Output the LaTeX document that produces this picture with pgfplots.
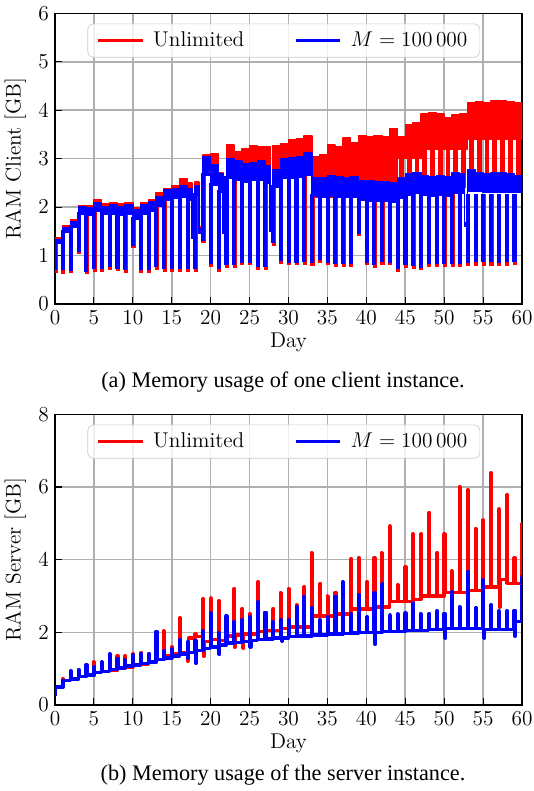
\documentclass[border=0pt]{standalone}
\usepackage{fontspec}
\usepackage{pgfplots}
\pgfplotsset{compat=1.18}
\newfontfamily\capfont{Liberation Serif}
\definecolor{gridc}{RGB}{176,176,176}
\definecolor{legc}{RGB}{204,204,204}
\pgfplotsset{
  memaxis/.style={
    scale only axis, width=262.7pt, height=163.5pt,
    xmin=0, xmax=60, ymin=0,
    xtick={0,5,...,60},
    tick pos=left, tick align=inside,
    major tick length=4pt,
    tick style={black, line width=0.6pt},
    axis line style={black, line width=0.8pt},
    grid=major, grid style={gridc, line width=0.9pt},
    tick label style={font=\fontsize{12}{14}\selectfont},
    label style={font=\fontsize{12}{14}\selectfont},
    xlabel={Day},
    xlabel style={yshift=2pt},
    legend style={at={(0.49,0.965)}, anchor=north, legend columns=2,
      draw=legc, rounded corners=3pt, fill=white, fill opacity=0.8, text opacity=1,
      font=\fontsize{12}{14}\selectfont, inner xsep=5pt, inner ysep=2.5pt,
      /tikz/every even column/.append style={column sep=26pt},
      /tikz/every odd column/.append style={column sep=3pt}},
    legend image code/.code={\draw[#1, line width=1.8pt] (0pt,0pt) -- (25pt,0pt);},
  }
}
\begin{document}
\begin{tikzpicture}
\useasboundingbox (0,0) rectangle (300.375pt,444.94pt);
% ---------------- client ----------------
\begin{axis}[memaxis, at={(30.94pt,273.94pt)}, anchor=south west,
  ymax=6, ytick={0,1,...,6}, ylabel={RAM Client [GB]}]
\addlegendimage{red}\addlegendentry{Unlimited}
\addlegendimage{blue}\addlegendentry{$M = 100\,000$}
% red band
\addplot[forget plot, fill=red, draw=red, line width=0.8pt, line join=round] coordinates {
(0,1.36)(1,1.36)(1,1.62)(2,1.62)(2,1.74)(3,1.74)(3,2.03)(4,2.03)(4,2.02)(5,2.02)(5,2.16)(6,2.16)(6,2.08)(7,2.08)(7,2.1)(8,2.1)(8,2.07)(9,2.07)(9,2.1)(10,2.1)(10,1.98)(11,1.98)(11,2.1)(12,2.1)(12,2.16)(13,2.16)(13,2.3)(14,2.3)(14,2.38)(15,2.38)(15,2.45)(16,2.45)(16,2.58)(17,2.58)(17,2.5)(17.6,2.5)(17.6,1.48)(18,1.48)(18,2.52)(18.5,2.52)(18.5,1.6)(19,1.6)(19,3.08)(20,3.08)(20,3.1)(21,3.1)(21,2.72)(21.6,2.72)(21.6,1.6)(22,1.6)(22,3.28)(23,3.28)(23,3.15)(24,3.15)(24,3.2)(25,3.2)(25,3.26)(26,3.26)(26,3.24)(27,3.24)(27,3.25)(27.6,3.25)(27.6,1.62)(28,1.62)(28,3.27)(29,3.27)(29,3.3)(30,3.3)(30,3.4)(31,3.4)(31,3.42)(32,3.42)(32,3.47)(33,3.47)(33,3.05)(34,3.05)(34,3.08)(35,3.08)(35,3.28)(36,3.28)(36,3.25)(37,3.25)(37,3.43)(38,3.43)(38,3.32)(39,3.32)(39,3.48)(40,3.48)(40,3.45)(41,3.45)(41,3.48)(42,3.48)(42,3.45)(43,3.45)(43,3.62)(44,3.62)(44,3.45)(45,3.45)(45,3.7)(46,3.7)(46,3.75)(47,3.75)(47,3.92)(48,3.92)(48,3.95)(49,3.95)(49,3.92)(50,3.92)(50,3.85)(51,3.85)(51,3.9)(52,3.9)(52,3.92)(53,3.92)(53,4.15)(54,4.15)(54,4.18)(55,4.18)(55,4.15)(56,4.15)(56,4.2)(57,4.2)(58,4.2)(58,4.18)(59,4.18)(59,4.15)(60,4.15)
(60,3.4)(53,3.4)(53,3.2)(47,3.2)(47,3.0)(44,3.0)(44,2.2)(33,2.2)(33,2.65)
(32,2.65)(32,2.62)(31,2.62)(31,2.6)(29,2.6)(29,2.4)(28,2.4)(28,1.5)(27.6,1.5)(27.6,2.5)(27,2.5)(27,2.55)(25,2.55)(25,2.52)(24,2.52)(24,2.55)(23,2.55)(23,2.6)(22,2.6)(22,1.45)(21.6,1.45)(21.6,2.3)(21,2.3)(21,2.45)(20,2.45)(20,2.65)(19,2.65)(19,1.45)(18.5,1.45)(18.5,2.25)(18,2.25)(18,1.35)(17.6,1.35)(17.6,2.15)(17,2.15)(17,2.2)(16,2.2)(16,2.18)(15,2.18)(15,2.15)(14,2.15)(14,2.02)(13,2.02)(13,1.92)(12,1.92)(12,1.85)(11,1.85)(11,1.75)(10,1.75)(10,1.86)(9,1.86)(9,1.83)(8,1.83)(8,1.86)(7,1.86)(7,1.85)(6,1.85)(6,1.92)(5,1.92)(5,1.84)(4,1.84)(4,1.85)(3,1.85)(3,1.58)(2,1.58)(2,1.48)(1,1.48)(1,1.25)(0,1.25)
};
% red lower blocks (between daily drops)
\addplot[forget plot, red, line width=2.7pt, line cap=butt, unbounded coords=jump] coordinates {
(44.5,3.0)(44.5,2.4) (nan,nan) (45.5,3.0)(45.5,2.4) (nan,nan) (46.5,3.0)(46.5,2.4) (nan,nan)
(47.5,3.2)(47.5,2.4) (nan,nan) (48.5,3.2)(48.5,2.4) (nan,nan) (49.5,3.2)(49.5,2.4) (nan,nan)
(50.5,3.2)(50.5,2.4) (nan,nan) (51.5,3.2)(51.5,2.4) (nan,nan) (52.5,3.2)(52.5,2.4) (nan,nan)
(53.5,3.4)(53.5,2.4) (nan,nan) (54.5,3.4)(54.5,2.4) (nan,nan) (55.5,3.4)(55.5,2.4) (nan,nan)
(56.5,3.4)(56.5,2.4) (nan,nan) (57.5,3.4)(57.5,2.4) (nan,nan) (58.5,3.4)(58.5,2.4) (nan,nan)
(59.5,3.4)(59.5,2.4)
};
% red daily drops
\addplot[forget plot, red, line width=2.3pt, line cap=butt, unbounded coords=jump] coordinates {
(0.08,1.3)(0.08,0.65) (nan,nan) (1.08,1.53)(1.08,0.62) (nan,nan) (2.08,1.63)(2.08,0.64) (nan,nan)
(3.08,1.9)(3.08,1.03) (nan,nan) (4.08,1.89)(4.08,0.61) (nan,nan) (5.08,1.97)(5.08,0.67) (nan,nan)
(6.08,1.9)(6.08,0.67) (nan,nan) (7.08,1.91)(7.08,0.71) (nan,nan) (8.08,1.88)(8.08,0.68) (nan,nan)
(9.08,1.91)(9.08,0.65) (nan,nan) (10.08,1.8)(10.08,1.15) (nan,nan) (11.08,1.9)(11.08,0.65) (nan,nan)
(12.08,1.97)(12.08,0.65) (nan,nan) (13.08,2.07)(13.08,0.71) (nan,nan) (14.08,2.2)(14.08,0.67) (nan,nan)
(15.08,2.23)(15.08,0.67) (nan,nan) (16.08,2.25)(16.08,0.67) (nan,nan) (17.08,2.2)(17.08,0.67) (nan,nan)
(18.08,2.3)(18.08,0.67) (nan,nan) (19.08,2.7)(19.08,1.25) (nan,nan) (20.08,2.5)(20.08,0.77) (nan,nan)
(21.08,2.35)(21.08,0.67) (nan,nan) (22.08,2.65)(22.08,0.75) (nan,nan) (23.08,2.6)(23.08,0.75) (nan,nan)
(24.08,2.57)(24.08,0.8) (nan,nan) (25.08,2.6)(25.08,0.8) (nan,nan) (26.08,2.6)(26.08,0.71) (nan,nan)
(27.08,2.55)(27.08,0.71) (nan,nan) (28.08,2.45)(28.08,1.2) (nan,nan) (29.08,2.65)(29.08,0.83) (nan,nan)
(30.08,2.65)(30.08,0.8) (nan,nan) (31.08,2.65)(31.08,0.8) (nan,nan) (32.08,2.65)(32.08,0.81) (nan,nan)
(33.08,2.27)(33.08,0.79) (nan,nan) (34.08,2.27)(34.08,0.85) (nan,nan) (35.08,2.27)(35.08,0.8) (nan,nan)
(36.08,2.27)(36.08,0.77) (nan,nan) (37.08,2.27)(37.08,0.77) (nan,nan) (38.08,2.27)(38.08,0.77) (nan,nan)
(39.08,2.27)(39.08,1.4) (nan,nan) (40.08,2.27)(40.08,0.8) (nan,nan) (41.08,2.27)(41.08,0.75) (nan,nan)
(42.08,2.27)(42.08,0.81) (nan,nan) (43.08,2.27)(43.08,0.8) (nan,nan) (44.08,2.27)(44.08,0.67) (nan,nan)
(45.08,2.27)(45.08,0.75) (nan,nan) (46.08,2.27)(46.08,0.73) (nan,nan) (47.08,2.27)(47.08,0.7) (nan,nan)
(48.08,2.27)(48.08,0.76) (nan,nan) (49.08,2.27)(49.08,0.76) (nan,nan) (50.08,2.27)(50.08,0.76) (nan,nan)
(51.08,2.27)(51.08,0.76) (nan,nan) (52.08,2.27)(52.08,0.76) (nan,nan) (53.08,2.27)(53.08,0.78) (nan,nan)
(54.08,2.27)(54.08,0.78) (nan,nan) (55.08,2.27)(55.08,0.78) (nan,nan) (56.08,2.27)(56.08,0.78) (nan,nan)
(57.08,2.27)(57.08,0.78) (nan,nan) (58.08,2.27)(58.08,0.78) (nan,nan) (59.08,2.27)(59.08,0.8)
};
% blue band
\addplot[forget plot, fill=blue, draw=blue, line width=0.8pt, line join=round] coordinates {
(0,1.33)(1,1.33)(1,1.58)(2,1.58)(2,1.70)(3,1.70)(3,2.00)(4,2.00)(4,1.98)(5,1.98)(5,2.10)(6,2.10)(6,2.00)(7,2.00)(7,2.05)(8,2.05)(8,2.00)(9,2.00)(9,2.05)(10,2.05)(10,1.95)(11,1.95)(11,2.05)(12,2.05)(12,2.12)(13,2.12)(13,2.22)(14,2.22)(14,2.35)(15,2.35)(15,2.38)(16,2.38)(16,2.45)(17,2.45)(17,2.38)(17.6,2.38)(17.6,1.42)(18,1.42)(18,2.45)(18.5,2.45)(18.5,1.55)(19,1.55)(19,3.05)(20,3.05)(20,2.88)(21,2.88)(21,2.68)(21.6,2.68)(21.6,1.55)(22,1.55)(22,3.0)(23,3.0)(23,2.95)(24,2.95)(24,2.9)(25,2.9)(25,2.92)(26,2.92)(26,2.95)(27,2.95)(27,2.85)(27.6,2.85)(27.6,1.58)(28,1.58)(28,2.78)(29,2.78)(29,3.0)(30,3.0)(30,3.02)(31,3.02)(31,3.05)(32,3.05)(32,3.12)(33,3.12)(33,2.6)(34,2.6)(35,2.6)(35,2.65)(36,2.65)(36,2.62)(37,2.62)(37,2.6)(38,2.6)(38,2.62)(39,2.62)(39,2.55)(40,2.55)(41,2.55)(41,2.52)(42,2.52)(43,2.52)(43,2.5)(44,2.5)(44,2.6)(45,2.6)(45,2.68)(46,2.68)(46,2.72)(47,2.72)(47,2.65)(48,2.65)(48,2.62)(49,2.62)(49,2.65)(50,2.65)(50,2.62)(51,2.62)(51,2.7)(52,2.7)(52,2.68)(52.6,2.68)(52.6,1.68)(53,1.68)(53,2.78)(54,2.78)(54,2.72)(55,2.72)(55,2.68)(56,2.68)(56,2.7)(57,2.7)(58,2.7)(58,2.68)(59,2.68)(59,2.65)(60,2.65)
(60,2.3)(55,2.3)(55,2.32)(53,2.32)(53,1.6)(52.6,1.6)(52.6,2.28)(51,2.28)(51,2.22)(50,2.22)(50,2.25)(49,2.25)(49,2.22)(48,2.22)(48,2.25)(47,2.25)(47,2.28)(46,2.28)(46,2.25)(45,2.25)(45,2.18)(44,2.18)(44,2.1)(43,2.1)(43,2.12)(40,2.12)(40,2.15)(39,2.15)(39,2.2)(36,2.2)(36,2.22)(35,2.22)(35,2.2)(34,2.2)(34,2.22)(33,2.22)(33,2.65)(32,2.65)(32,2.62)(31,2.62)(31,2.6)(29,2.6)(29,2.4)(28,2.4)(28,1.5)(27.6,1.5)(27.6,2.5)(27,2.5)(27,2.55)(25,2.55)(25,2.52)(24,2.52)(24,2.55)(23,2.55)(23,2.6)(22,2.6)(22,1.45)(21.6,1.45)(21.6,2.3)(21,2.3)(21,2.45)(20,2.45)(20,2.65)(19,2.65)(19,1.45)(18.5,1.45)(18.5,2.25)(18,2.25)(18,1.35)(17.6,1.35)(17.6,2.15)(17,2.15)(17,2.2)(16,2.2)(16,2.18)(15,2.18)(15,2.15)(14,2.15)(14,2.02)(13,2.02)(13,1.92)(12,1.92)(12,1.85)(11,1.85)(11,1.75)(10,1.75)(10,1.86)(9,1.86)(9,1.83)(8,1.83)(8,1.86)(7,1.86)(7,1.85)(6,1.85)(6,1.92)(5,1.92)(5,1.84)(4,1.84)(4,1.85)(3,1.85)(3,1.58)(2,1.58)(2,1.48)(1,1.48)(1,1.25)(0,1.25)
};
% blue daily drops
\addplot[forget plot, blue, line width=2.3pt, line cap=butt, unbounded coords=jump] coordinates {
(0.03,1.3)(0.03,0.7) (nan,nan) (1.03,1.53)(1.03,0.7) (nan,nan) (2.03,1.63)(2.03,0.69) (nan,nan)
(3.03,1.9)(3.03,1.08) (nan,nan) (4.03,1.89)(4.03,0.66) (nan,nan) (5.03,1.97)(5.03,0.72) (nan,nan)
(6.03,1.9)(6.03,0.72) (nan,nan) (7.03,1.91)(7.03,0.76) (nan,nan) (8.03,1.88)(8.03,0.73) (nan,nan)
(9.03,1.91)(9.03,0.7) (nan,nan) (10.03,1.8)(10.03,1.2) (nan,nan) (11.03,1.9)(11.03,0.7) (nan,nan)
(12.03,1.97)(12.03,0.7) (nan,nan) (13.03,2.07)(13.03,0.76) (nan,nan) (14.03,2.2)(14.03,0.72) (nan,nan)
(15.03,2.23)(15.03,0.72) (nan,nan) (16.03,2.25)(16.03,0.72) (nan,nan) (17.03,2.2)(17.03,0.72) (nan,nan)
(18.03,2.3)(18.03,0.72) (nan,nan) (19.03,2.7)(19.03,1.3) (nan,nan) (20.03,2.5)(20.03,0.82) (nan,nan)
(21.03,2.35)(21.03,0.72) (nan,nan) (22.03,2.65)(22.03,0.8) (nan,nan) (23.03,2.6)(23.03,0.8) (nan,nan)
(24.03,2.57)(24.03,0.85) (nan,nan) (25.03,2.6)(25.03,0.85) (nan,nan) (26.03,2.6)(26.03,0.76) (nan,nan)
(27.03,2.55)(27.03,0.76) (nan,nan) (28.03,2.45)(28.03,1.25) (nan,nan) (29.03,2.65)(29.03,0.88) (nan,nan)
(30.03,2.65)(30.03,0.85) (nan,nan) (31.03,2.65)(31.03,0.85) (nan,nan) (32.03,2.65)(32.03,0.86) (nan,nan)
(33.03,2.27)(33.03,0.84) (nan,nan) (34.03,2.27)(34.03,0.9) (nan,nan) (35.03,2.27)(35.03,0.85) (nan,nan)
(36.03,2.27)(36.03,0.82) (nan,nan) (37.03,2.27)(37.03,0.82) (nan,nan) (38.03,2.27)(38.03,0.82) (nan,nan)
(39.03,2.27)(39.03,1.45) (nan,nan) (40.03,2.27)(40.03,0.85) (nan,nan) (41.03,2.27)(41.03,0.8) (nan,nan)
(42.03,2.27)(42.03,0.86) (nan,nan) (43.03,2.27)(43.03,0.85) (nan,nan) (44.03,2.27)(44.03,0.72) (nan,nan)
(45.03,2.27)(45.03,0.8) (nan,nan) (46.03,2.27)(46.03,0.78) (nan,nan) (47.03,2.27)(47.03,0.75) (nan,nan)
(48.03,2.27)(48.03,0.82) (nan,nan) (49.03,2.27)(49.03,0.82) (nan,nan) (50.03,2.27)(50.03,0.82) (nan,nan)
(51.03,2.27)(51.03,0.82) (nan,nan) (52.03,2.27)(52.03,0.82) (nan,nan) (53.03,2.27)(53.03,0.85) (nan,nan)
(54.03,2.27)(54.03,0.86) (nan,nan) (55.03,2.27)(55.03,0.86) (nan,nan) (56.03,2.27)(56.03,0.86) (nan,nan)
(57.03,2.27)(57.03,0.85) (nan,nan) (58.03,2.27)(58.03,0.86) (nan,nan) (59.03,2.27)(59.03,0.86)
};
\end{axis}
\node[font=\capfont\fontsize{12.5}{15}\selectfont] at (159.2pt,230.06pt) {(a) Memory usage of one client instance.};
% ---------------- server ----------------
\begin{axis}[memaxis, at={(30.94pt,48.375pt)}, anchor=south west,
  ymax=8, ytick={0,2,...,8}, ylabel={RAM Server [GB]}]
\addlegendimage{red}\addlegendentry{Unlimited}
\addlegendimage{blue}\addlegendentry{$M = 100\,000$}
\addplot[forget plot, red, line width=2pt, line join=round] coordinates {
(0,0.3)(0,0.5)
(1,0.5)(1,0.72)(1.08,0.72)(1.08,0.68)
(2,0.68)(2,0.85)(2.08,0.85)(2.08,0.7)
(3,0.7)(3,0.95)(3.08,0.95)(3.08,0.78)
(4,0.78)(4,1.1)(4.08,1.1)(4.08,0.82)
(5,0.82)(5,1.2)(5.08,1.2)(5.08,0.9)
(6,0.9)(6,1.15)(6.08,1.15)(6.08,0.92)
(7,0.92)(7,1.25)(7.08,1.25)(7.08,0.95)
(8,0.95)(8,1.35)(8.08,1.35)(8.08,1.0)
(9,1.0)(9,1.35)(9.08,1.35)(9.08,1.05)
(10,1.05)(10,1.4)(10.08,1.4)(10.08,1.1)
(11,1.1)(11,1.45)(11.08,1.45)(11.08,1.12)
(12,1.12)(12,1.4)(12.08,1.4)(12.08,1.18)
(13,1.18)(13,1.5)(13.08,1.5)(13.08,1.25)
(14,1.25)(14,2.05)(14.08,2.05)(14.08,1.35)
(15,1.35)(15,1.6)(15.08,1.6)(15.08,1.4)
(16,1.4)(16,2.4)(16.08,2.4)(16.08,1.45)
(17,1.45)(17,1.75)(17.08,1.75)(17.08,1.2)(17.16,1.2)(17.16,1.85)
(18,1.85)(18,1.95)(18.08,1.95)(18.08,1.88)
(19,1.88)(19,2.92)(19.08,2.92)(19.08,1.35)(19.16,1.35)(19.16,1.75)
(20,1.75)(20,2.95)(20.08,2.95)(20.08,1.8)
(21,1.8)(21,2.88)(21.08,2.88)(21.08,1.78)
(22,1.78)(22,2.2)(22.08,2.2)(22.08,1.9)
(23,1.9)(23,3.2)(23.08,3.2)(23.08,1.6)(23.16,1.6)(23.16,1.92)
(24,1.92)(24,2.65)(24.08,2.65)(24.08,1.55)(24.16,1.55)(24.16,1.95)
(25,1.95)(25,2.5)(25.08,2.5)(25.08,1.95)
(26,1.95)(26,3.4)(26.08,3.4)(26.08,2.02)
(27,2.02)(27,2.55)(27.08,2.55)(27.08,2.05)
(28,2.05)(28,2.65)(28.08,2.65)(28.08,2.05)
(29,2.05)(29,3.1)(29.08,3.1)(29.08,2.1)
(30,2.1)(30,3.2)(30.08,3.2)(30.08,2.15)
(31,2.15)(31,2.75)(31.08,2.75)(31.08,2.15)
(32,2.15)(32,3.25)(32.08,3.25)(32.08,2.15)
(33,2.15)(33,4.2)(33.08,4.2)(33.08,2.45)
(34,2.45)(34,3.35)(34.08,3.35)(34.08,2.45)
(35,2.45)(35,3.0)(35.08,3.0)(35.08,2.45)
(36,2.45)(36,3.1)(36.08,3.1)(36.08,2.5)
(37,2.5)(37,3.3)(37.08,3.3)(37.08,2.5)
(38,2.5)(38,4.02)(38.08,4.02)(38.08,2.65)
(39,2.65)(39,4.05)(39.08,4.05)(39.08,2.65)
(40,2.65)(40,3.4)(40.08,3.4)(40.08,2.65)
(41,2.65)(41,4.05)(41.08,4.05)(41.08,2.7)
(42,2.7)(42,4.2)(42.08,4.2)(42.08,2.7)
(43,2.7)(43,4.92)(43.08,4.92)(43.08,2.85)
(44,2.85)(44,3.3)(44.08,3.3)(44.08,2.85)
(45,2.85)(45,3.8)(45.08,3.8)(45.08,2.85)
(46,2.85)(46,4.72)(46.08,4.72)(46.08,2.9)
(47,2.9)(47,4.7)(47.08,4.7)(47.08,3.0)
(48,3.0)(48,5.3)(48.08,5.3)(48.08,3.0)
(49,3.0)(49,4.2)(49.08,4.2)(49.08,3.0)
(50,3.0)(50,4.7)(50.08,4.7)(50.08,3.1)
(51,3.1)(51,3.7)(51.08,3.7)(51.08,3.1)
(52,3.1)(52,6.02)(52.08,6.02)(52.08,3.1)
(53,3.1)(53,5.92)(53.08,5.92)(53.08,3.15)
(54,3.15)(54,4.85)(54.08,4.85)(54.08,3.15)
(55,3.15)(55,5.1)(55.08,5.1)(55.08,3.25)
(56,3.25)(56,6.38)(56.08,6.38)(56.08,3.25)
(57,3.25)(57,5.4)(57.08,5.4)(57.08,2.7)(57.16,2.7)(57.16,3.45)
(58,3.45)(58,5.8)(58.08,5.8)(58.08,3.35)
(59,3.35)(59,4.05)(59.08,4.05)(59.08,3.35)
(59.92,3.35)(59.92,5.0)(60,5.0)
};
\addplot[forget plot, blue, line width=2pt, line join=round] coordinates {
(0,0.25)(0,0.5)
(1,0.5)(1,0.68)
(2,0.68)(2,0.93)(2.08,0.93)(2.08,0.72)
(3,0.72)(3,0.97)(3.08,0.97)(3.08,0.78)
(4,0.78)(4,1.1)(4.08,1.1)(4.08,0.82)
(5,0.82)(5,1.05)(5.08,1.05)(5.08,0.9)
(6,0.9)(6,1.2)(6.08,1.2)(6.08,0.92)
(7,0.92)(7,1.4)(7.08,1.4)(7.08,0.98)
(8,0.98)(8,1.28)(8.08,1.28)(8.08,1.02)
(9,1.02)(9,1.25)(9.08,1.25)(9.08,1.08)
(10,1.08)(10,1.38)(10.08,1.38)(10.08,1.1)
(11,1.1)(11,1.42)(11.08,1.42)(11.08,1.14)
(12,1.14)(12,1.42)(12.08,1.42)(12.08,1.18)
(13,1.18)(13,2.02)(13.08,2.02)(13.08,1.25)
(14,1.25)(14,1.5)(14.08,1.5)(14.08,1.3)
(15,1.3)(15,1.55)(15.08,1.55)(15.08,1.35)
(16,1.35)(16,1.8)(16.08,1.8)(16.08,1.4)
(17,1.4)(17,1.75)(17.08,1.75)(17.08,1.3)(17.16,1.3)(17.16,1.45)
(18,1.45)(18,1.78)(18.08,1.78)(18.08,1.15)(18.16,1.15)(18.16,1.5)
(19,1.5)(19,2.05)(19.08,2.05)(19.08,1.55)
(20,1.55)(20,2.55)(20.08,2.55)(20.08,1.6)
(21,1.6)(21,2.0)(21.08,2.0)(21.08,1.4)(21.16,1.4)(21.16,1.65)
(22,1.65)(22,2.45)(22.08,2.45)(22.08,1.7)
(23,1.7)(23,2.3)(23.08,2.3)(23.08,1.72)
(24,1.72)(24,2.35)(24.08,2.35)(24.08,1.75)
(25,1.75)(25,2.42)(25.08,2.42)(25.08,1.6)(25.16,1.6)(25.16,1.78)
(26,1.78)(26,2.85)(26.08,2.85)(26.08,1.8)
(27,1.8)(27,2.55)(27.08,2.55)(27.08,1.82)
(28,1.82)(28,2.3)(28.08,2.3)(28.08,1.85)
(29,1.85)(29,2.35)(29.08,2.35)(29.08,1.75)(29.16,1.75)(29.16,1.85)
(30,1.85)(30,2.34)(30.08,2.34)(30.08,1.88)
(31,1.88)(31,2.71)(31.08,2.71)(31.08,1.9)
(32,1.9)(32,2.99)(32.08,2.99)(32.08,1.9)
(33,1.9)(33,2.68)(33.08,2.68)(33.08,1.92)
(34,1.92)(34,2.34)(34.08,2.34)(34.08,1.93)
(35,1.93)(35,2.44)(35.08,2.44)(35.08,1.95)
(36,1.95)(36,2.99)(36.08,2.99)(36.08,1.95)
(37,1.95)(37,3.4)(37.08,3.4)(37.08,1.97)
(38,1.97)(38,2.52)(38.08,2.52)(38.08,1.98)
(39,1.98)(39,3.04)(39.08,3.04)(39.08,2.0)
(40,2.0)(40,2.44)(40.08,2.44)(40.08,2.0)
(41,2.0)(41,3.1)(41.08,3.1)(41.08,1.68)(41.16,1.68)(41.16,2.0)
(42,2.0)(42,3.33)(42.08,3.33)(42.08,2.02)
(43,2.02)(43,2.48)(43.08,2.48)(43.08,2.02)
(44,2.02)(44,2.5)(44.08,2.5)(44.08,2.02)
(45,2.02)(45,2.53)(45.08,2.53)(45.08,2.05)
(46,2.05)(46,2.82)(46.08,2.82)(46.08,2.05)
(47,2.05)(47,2.52)(47.08,2.52)(47.08,2.05)
(48,2.05)(48,2.52)(48.08,2.52)(48.08,2.08)
(49,2.08)(49,2.6)(49.08,2.6)(49.08,2.08)
(50,2.08)(50,2.52)(50.08,2.52)(50.08,1.85)(50.16,1.85)(50.16,2.1)
(51,2.1)(51,3.12)(51.08,3.12)(51.08,2.1)
(52,2.1)(52,2.71)(52.08,2.71)(52.08,2.1)
(53,2.1)(53,3.68)(53.08,3.68)(53.08,2.1)
(54,2.1)(54,2.68)(54.08,2.68)(54.08,2.1)
(55,2.1)(55,3.45)(55.08,3.45)(55.08,1.85)(55.16,1.85)(55.16,2.08)
(56,2.08)(56,2.75)(56.08,2.75)(56.08,2.08)
(57,2.08)(57,2.6)(57.08,2.6)(57.08,2.08)
(58,2.08)(58,2.6)(58.08,2.6)(58.08,2.08)
(59,2.08)(59,2.6)(59.08,2.6)(59.08,1.9)(59.16,1.9)(59.16,2.3)
(59.92,2.3)(59.92,3.54)(60,3.54)
};
\end{axis}
\node[font=\capfont\fontsize{12.5}{15}\selectfont] at (159.2pt,9pt) {(b) Memory usage of the server instance.};
\end{tikzpicture}
\end{document}
